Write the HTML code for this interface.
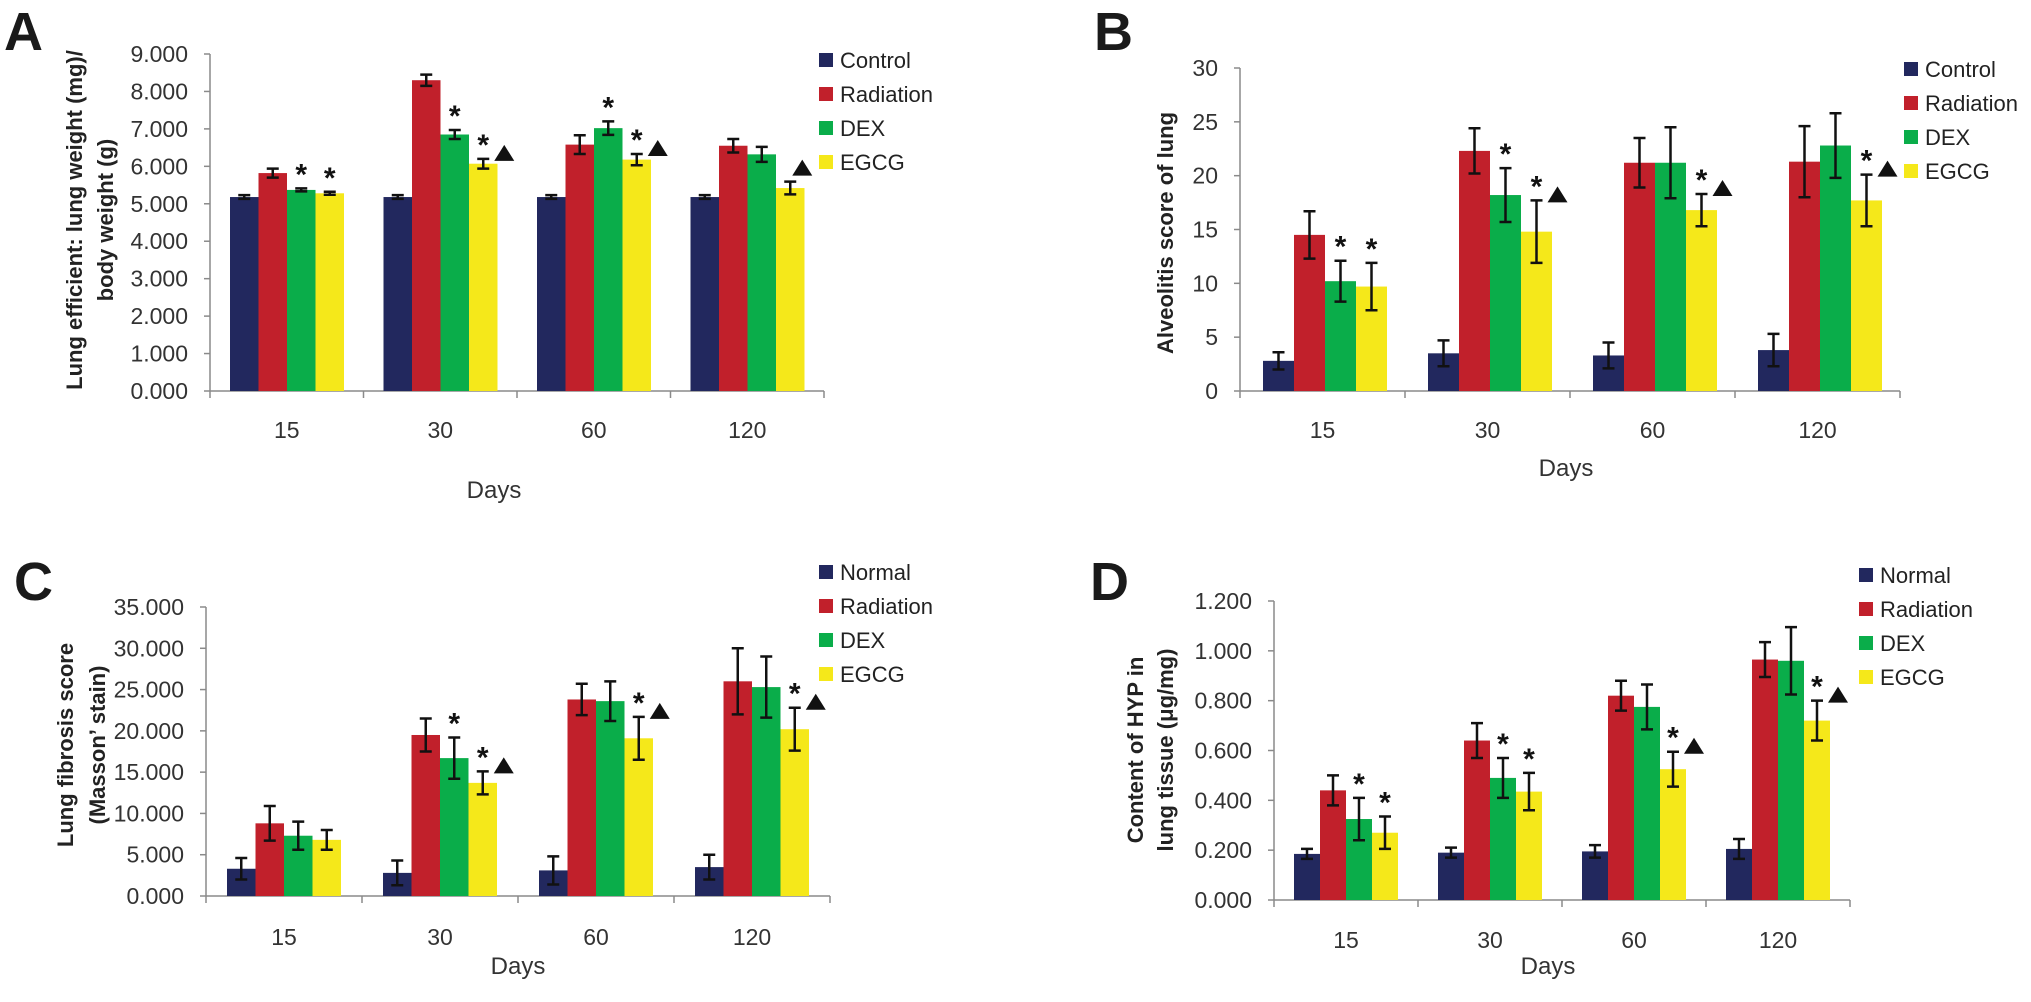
<!DOCTYPE html>
<html><head><meta charset="utf-8">
<style>
html,body{margin:0;padding:0;background:#fff;}
svg{display:block;font-family:"Liberation Sans",sans-serif;}
</style></head>
<body>
<svg id="fig" width="2031" height="1002" viewBox="0 0 2031 1002" xmlns="http://www.w3.org/2000/svg"></svg>
<script>
// ---- shared data ----
const categories = ["15","30","60","120"];
const colors = ["#22285e","#c1202b","#0aad4a","#f5e81a"];

// Panel A
const aSeries = ["Control","Radiation","DEX","EGCG"];
const aControl = [5.18,5.18,5.18,5.18];
const aRadiation = [5.82,8.30,6.58,6.55];
const aDex = [5.37,6.85,7.02,6.32];
const aEgcg = [5.28,6.07,6.18,5.42];
const aControlErr = [0.05,0.05,0.05,0.05];
const aRadiationErr = [0.12,0.15,0.25,0.18];
const aDexErr = [0.04,0.12,0.18,0.20];
const aEgcgErr = [0.04,0.13,0.15,0.17];
const aDexMark = ["*","*","*",""];
const aEgcgMark = ["*","*▲","*▲","▲"];
const aTicks = ["0.000","1.000","2.000","3.000","4.000","5.000","6.000","7.000","8.000","9.000"];

// Panel B
const bSeries = ["Control","Radiation","DEX","EGCG"];
const bControl = [2.8,3.5,3.3,3.8];
const bRadiation = [14.5,22.3,21.2,21.3];
const bDex = [10.2,18.2,21.2,22.8];
const bEgcg = [9.7,14.8,16.8,17.7];
const bControlErr = [0.8,1.2,1.2,1.5];
const bRadiationErr = [2.2,2.1,2.3,3.3];
const bDexErr = [1.9,2.5,3.3,3.0];
const bEgcgErr = [2.2,2.9,1.5,2.4];
const bDexMark = ["*","*","",""];
const bEgcgMark = ["*","*▲","*▲","*▲"];
const bTicks = ["0","5","10","15","20","25","30"];

// Panel C
const cSeries = ["Normal","Radiation","DEX","EGCG"];
const cNormal = [3.3,2.8,3.1,3.5];
const cRadiation = [8.8,19.5,23.8,26.0];
const cDex = [7.3,16.7,23.6,25.3];
const cEgcg = [6.8,13.7,19.1,20.2];
const cNormalErr = [1.3,1.5,1.7,1.5];
const cRadiationErr = [2.1,2.0,1.9,4.0];
const cDexErr = [1.7,2.5,2.4,3.7];
const cEgcgErr = [1.2,1.4,2.6,2.6];
const cDexMark = ["","*","",""];
const cEgcgMark = ["","*▲","*▲","*▲"];
const cTicks = ["0.000","5.000","10.000","15.000","20.000","25.000","30.000","35.000"];

// Panel D
const dSeries = ["Normal","Radiation","DEX","EGCG"];
const dNormal = [0.185,0.19,0.195,0.205];
const dRadiation = [0.44,0.64,0.82,0.965];
const dDex = [0.325,0.49,0.775,0.96];
const dEgcg = [0.27,0.435,0.525,0.72];
const dNormalErr = [0.02,0.02,0.025,0.04];
const dRadiationErr = [0.06,0.07,0.06,0.07];
const dDexErr = [0.085,0.08,0.09,0.135];
const dEgcgErr = [0.065,0.075,0.07,0.08];
const dDexMark = ["*","*","",""];
const dEgcgMark = ["*","*","*▲","*▲"];
const dTicks = ["0.000","0.200","0.400","0.600","0.800","1.000","1.200"];

const NS = "http://www.w3.org/2000/svg";
const svg = document.getElementById("fig");
function mk(tag, attrs, parent, text){
  const e = document.createElementNS(NS, tag);
  for (const k in attrs) e.setAttribute(k, attrs[k]);
  if (text !== undefined) e.textContent = text;
  (parent||svg).appendChild(e);
  return e;
}

function panel(cfg){
  const g = mk("g", {});
  
  
  const yMax = parseFloat(cfg.ticks[cfg.ticks.length-1]);
  const y = v => cfg.y0 - (v / yMax) * (cfg.y0 - cfg.yTop);
  const catW = cfg.catW;
  const axisEnd = cfg.x0 + catW * categories.length;
  const L = mk("text", {x:cfg.letterX, y:cfg.letterY, "font-size":54, "font-weight":"bold", fill:"#1a1a1a"}, g, cfg.letter);
  
  
  const ya = mk("line", {x1:cfg.x0, y1:cfg.yTop, x2:cfg.x0, y2:cfg.y0, stroke:"#8a8a8a", "stroke-width":1.5}, g);
  
  
  cfg.ticks.forEach((t) => {
    const v = parseFloat(t);
    const ty = y(v);
    mk("line", {x1:cfg.x0-6, y1:ty, x2:cfg.x0, y2:ty, stroke:"#8a8a8a", "stroke-width":1.5}, g);
    const tl = mk("text", {x:cfg.x0-22, y:ty+8, "font-size":23, "text-anchor":"end", fill:"#333"}, g, t);
    
    
  });
  const xa = mk("line", {x1:cfg.x0, y1:cfg.y0, x2:axisEnd, y2:cfg.y0, stroke:"#8a8a8a", "stroke-width":1.5}, g);
  
  
  for (let i=0;i<=categories.length;i++){
    mk("line", {x1:cfg.x0+i*catW, y1:cfg.y0, x2:cfg.x0+i*catW, y2:cfg.y0+7, stroke:"#8a8a8a", "stroke-width":1.5}, g);
  }
  categories.forEach((c,i) => {
    const cl = mk("text", {x:cfg.x0+(i+0.5)*catW, y:cfg.catLabelY+8, "font-size":23, "text-anchor":"middle", fill:"#333"}, g, c);
    
    
  });
  const dt = mk("text", {x:cfg.daysX, y:cfg.daysY+8, "font-size":24, "text-anchor":"middle", fill:"#333"}, g, "Days");
  
  
  cfg.ytitle.forEach((ln, k) => {
    const tx = cfg.ytitleX[k];
    const t = mk("text", {x:tx, y:cfg.ytitleY, "font-size":22, "font-weight":"bold", "text-anchor":"middle", fill:"#222", transform:`rotate(-90 ${tx} ${cfg.ytitleY})`, dy:8}, g, ln);
    
    
  });
  const bw = cfg.barW;
  cfg.values.forEach((vals, s) => {
    vals.forEach((v, i) => {
      const bx = cfg.x0 + i*catW + cfg.barOff + s*bw;
      const r = mk("rect", {x:bx, y:y(v), width:bw, height:cfg.y0 - y(v), fill:colors[s]}, g);
      
      
      const e = cfg.errs[s][i];
      const cx = bx + bw/2;
      const eb = mk("path", {d:`M${cx} ${y(v+e)}V${y(v-e)}M${cx-6} ${y(v+e)}H${cx+6}M${cx-6} ${y(v-e)}H${cx+6}`, stroke:"#111", "stroke-width":2.5, fill:"none"}, g);
      
      
      const mark = s===2 ? cfg.dexMark[i] : (s===3 ? cfg.egcgMark[i] : "");
      if (mark) {
        const topY = y(v+e);
        if (mark.indexOf("*") >= 0) {
          const st = mk("text", {x:cx, y:topY-4, "font-size":30, "font-weight":"bold", "text-anchor":"middle", fill:"#111"}, g, "*");
          
          
        }
        if (mark.indexOf("▲") >= 0) {
          const tx = mark.indexOf("*")>=0 ? cx+21 : cx+12;
          const ty = mark.indexOf("*")>=0 ? topY+2 : topY-6;
          const tr = mk("path", {d:`M${tx} ${ty-16}L${tx+10} ${ty}L${tx-10} ${ty}Z`, fill:"#111"}, g);
          
          
        }
      }
    });
  });
  cfg.series.forEach((nm, s) => {
    const ly = cfg.legY + s*34;
    const sw = mk("rect", {x:cfg.legX, y:ly-7, width:14, height:14, fill:colors[s]}, g);
    
    
    const lt = mk("text", {x:cfg.legX+21, y:ly+8, "font-size":22, fill:"#222"}, g, nm);
    
    
  });
}

panel({name:"panel-a", letter:"A", letterX:4, letterY:50, x0:210, y0:391, yTop:54, catW:153.5, barW:28.5, barOff:20,
  ticks:aTicks, series:aSeries, values:[aControl,aRadiation,aDex,aEgcg], errs:[aControlErr,aRadiationErr,aDexErr,aEgcgErr],
  dexMark:aDexMark, egcgMark:aEgcgMark, catLabelY:430, daysX:494, daysY:490,
  ytitle:["Lung efficient: lung weight (mg)/","body weight (g)"], ytitleX:[74,105], ytitleY:220, legX:819, legY:60});
panel({name:"panel-b", letter:"B", letterX:1094, letterY:50, x0:1240, y0:391, yTop:68, catW:165, barW:31, barOff:23,
  ticks:bTicks, series:bSeries, values:[bControl,bRadiation,bDex,bEgcg], errs:[bControlErr,bRadiationErr,bDexErr,bEgcgErr],
  dexMark:bDexMark, egcgMark:bEgcgMark, catLabelY:430, daysX:1566, daysY:468,
  ytitle:["Alveolitis score of lung"], ytitleX:[1165], ytitleY:233, legX:1904, legY:69});
panel({name:"panel-c", letter:"C", letterX:14, letterY:600, x0:206, y0:896, yTop:607, catW:156, barW:28.5, barOff:21,
  ticks:cTicks, series:cSeries, values:[cNormal,cRadiation,cDex,cEgcg], errs:[cNormalErr,cRadiationErr,cDexErr,cEgcgErr],
  dexMark:cDexMark, egcgMark:cEgcgMark, catLabelY:937, daysX:518, daysY:966,
  ytitle:["Lung fibrosis score","(Masson\u2019 stain)"], ytitleX:[65,97], ytitleY:745, legX:819, legY:572});
panel({name:"panel-d", letter:"D", letterX:1090, letterY:600, x0:1274, y0:900, yTop:601, catW:144, barW:26, barOff:20,
  ticks:dTicks, series:dSeries, values:[dNormal,dRadiation,dDex,dEgcg], errs:[dNormalErr,dRadiationErr,dDexErr,dEgcgErr],
  dexMark:dDexMark, egcgMark:dEgcgMark, catLabelY:940, daysX:1548, daysY:966,
  ytitle:["Content of HYP in","lung tissue (\u03bcg/mg)"], ytitleX:[1135,1165], ytitleY:750, legX:1859, legY:575});
</script>
</body></html>
